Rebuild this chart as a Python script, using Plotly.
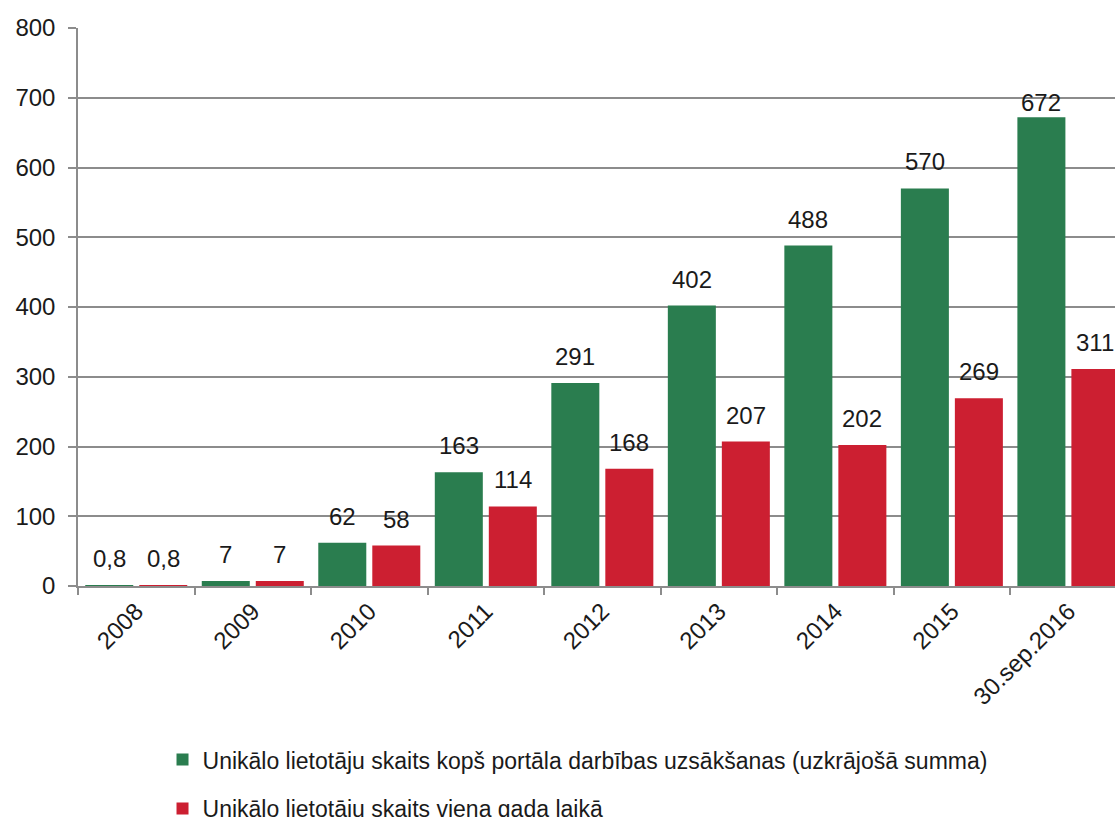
import plotly.graph_objects as go

categories = ["2008", "2009", "2010", "2011", "2012", "2013", "2014", "2015", "30.sep.2016"]
cumulative = [0.8, 7, 62, 163, 291, 402, 488, 570, 672]
yearly = [0.8, 7, 58, 114, 168, 207, 202, 269, 311]
series_names = [
    "Unikālo lietotāju skaits kopš portāla darbības uzsākšanas (uzkrājošā summa)",
    "Unikālo lietotāju skaits viena gada laikā",
]
y_ticks = [0, 100, 200, 300, 400, 500, 600, 700, 800]

FONT = "Liberation Sans"
TXT = "#1a1a1a"
GRID = "#8c8c8c"
COLORS = ["#2a7d4f", "#cc1f31"]


def fmt(v):
    return f"{v:g}".replace(".", ",")


fig = go.Figure()
annotations = []
for i, (name, vals) in enumerate(zip(series_names, [cumulative, yearly])):
    fig.add_trace(go.Bar(
        x=categories, y=vals, name=name, legendgroup=str(i),
        marker=dict(color=COLORS[i], line=dict(width=0)),
        cliponaxis=False,
    ))
    xshift = -27 if i == 0 else 27
    for j, v in enumerate(vals):
        # labels sit above bar end; near the top they are kept inside the plot
        ys = 11 if v < 650 else -1
        annotations.append(dict(
            x=j, y=v, xref="x", yref="y", text=fmt(v), showarrow=False,
            xanchor="center", yanchor="bottom", xshift=xshift, yshift=ys,
            font=dict(family=FONT, size=24, color=TXT),
        ))

fig.update_layout(
    width=1115, height=817,
    margin=dict(l=78, r=0, t=28, b=231, autoexpand=False),
    paper_bgcolor="white", plot_bgcolor="white",
    barmode="group", bargap=0.073, bargroupgap=0.111,
    font=dict(family=FONT, size=24, color=TXT),
    showlegend=True,
    legend=dict(
        orientation="v", x=0.0815, xanchor="left", y=-0.2726, yanchor="top",
        font=dict(family=FONT, size=23, color=TXT),
        tracegroupgap=16, traceorder="grouped",
        bgcolor="rgba(0,0,0,0)",
    ),
    annotations=annotations,
)
fig.update_xaxes(
    type="category", range=[-0.5, 8.40], automargin=False,
    tickangle=-45, tickson="boundaries", ticks="outside", ticklen=7,
    tickcolor=GRID, tickwidth=1.5,
    showline=True, linecolor=GRID, linewidth=1.5,
    showgrid=False, tickfont=dict(family=FONT, size=24, color=TXT),
)
fig.update_yaxes(
    range=[0, 800], tickvals=y_ticks, ticks="outside", ticklen=8, automargin=False,
    tickcolor=GRID, tickwidth=1.5, ticklabelstandoff=8,
    showline=True, linecolor=GRID, linewidth=1.5,
    showgrid=True, gridcolor=GRID, gridwidth=1.5,
    zeroline=False, tickfont=dict(family=FONT, size=24, color=TXT),
)

fig.write_html(
    "out.html",
    config={"displayModeBar": False},
    post_script="document.body.style.margin='0';document.body.style.overflow='hidden';",
)
